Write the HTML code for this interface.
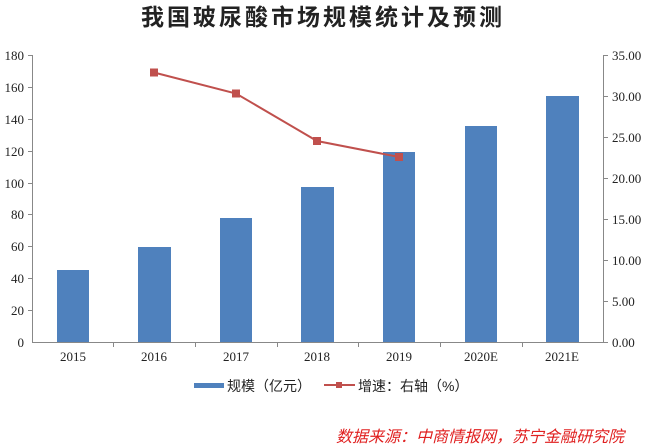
<!DOCTYPE html>
<html><head><meta charset="utf-8"><style>
html,body{margin:0;padding:0;background:#fff;width:646px;height:447px;overflow:hidden}
svg text{font-family:"Liberation Serif","Noto Serif CJK SC",serif}
</style></head><body>
<svg width="646" height="447" viewBox="0 0 646 447" xmlns="http://www.w3.org/2000/svg">
<text x="323" y="25" text-anchor="middle" style="font-family:'Liberation Sans','Noto Sans CJK SC',sans-serif;font-weight:bold;font-size:23px;letter-spacing:3px" fill="#222">我国玻尿酸市场规模统计及预测</text>
<g stroke="#888" stroke-width="1" fill="none">
<line x1="32.5" y1="55" x2="32.5" y2="342"/>
<line x1="603.5" y1="55" x2="603.5" y2="342"/>
<line x1="32" y1="342.5" x2="604" y2="342.5"/>
</g>
<g stroke="#888" stroke-width="1">
<line x1="28" y1="55.5" x2="32" y2="55.5"/><line x1="28" y1="87.5" x2="32" y2="87.5"/><line x1="28" y1="119.5" x2="32" y2="119.5"/><line x1="28" y1="151.5" x2="32" y2="151.5"/><line x1="28" y1="183.5" x2="32" y2="183.5"/><line x1="28" y1="214.5" x2="32" y2="214.5"/><line x1="28" y1="246.5" x2="32" y2="246.5"/><line x1="28" y1="278.5" x2="32" y2="278.5"/><line x1="28" y1="310.5" x2="32" y2="310.5"/>
<line x1="604" y1="55.5" x2="608" y2="55.5"/><line x1="604" y1="96.5" x2="608" y2="96.5"/><line x1="604" y1="137.5" x2="608" y2="137.5"/><line x1="604" y1="178.5" x2="608" y2="178.5"/><line x1="604" y1="219.5" x2="608" y2="219.5"/><line x1="604" y1="260.5" x2="608" y2="260.5"/><line x1="604" y1="301.5" x2="608" y2="301.5"/><line x1="604" y1="342.5" x2="608" y2="342.5"/>
<line x1="113.5" y1="342" x2="113.5" y2="347"/><line x1="195.5" y1="342" x2="195.5" y2="347"/><line x1="277.5" y1="342" x2="277.5" y2="347"/><line x1="358.5" y1="342" x2="358.5" y2="347"/><line x1="440.5" y1="342" x2="440.5" y2="347"/><line x1="522.5" y1="342" x2="522.5" y2="347"/>
</g>
<g font-size="13" fill="#222" text-anchor="end">
<text x="24" y="60">180</text><text x="24" y="92">160</text><text x="24" y="124">140</text><text x="24" y="156">120</text><text x="24" y="188">100</text><text x="24" y="219">80</text><text x="24" y="251">60</text><text x="24" y="283">40</text><text x="24" y="315">20</text><text x="24" y="347">0</text>
</g>
<g font-size="13" fill="#222" text-anchor="start">
<text x="612" y="60">35.00</text><text x="612" y="101">30.00</text><text x="612" y="142">25.00</text><text x="612" y="183">20.00</text><text x="612" y="224">15.00</text><text x="612" y="265">10.00</text><text x="612" y="306">5.00</text><text x="612" y="347">0.00</text>
</g>
<g fill="#4f81bd">
<rect x="57" y="270" width="32" height="72"/>
<rect x="138" y="247" width="33" height="95"/>
<rect x="220" y="218" width="32" height="124"/>
<rect x="301" y="187" width="33" height="155"/>
<rect x="383" y="152" width="32" height="190"/>
<rect x="465" y="126" width="32" height="216"/>
<rect x="546" y="96" width="33" height="246"/>
</g>
<polyline points="154,72.5 236,93.5 317,141 399,157" fill="none" stroke="#c0504d" stroke-width="2"/>
<g fill="#c0504d">
<rect x="150" y="68.5" width="8" height="8"/><rect x="232" y="89.5" width="8" height="8"/><rect x="313" y="137" width="8" height="8"/><rect x="395" y="153" width="8" height="8"/>
</g>
<g font-size="13" fill="#222" text-anchor="middle">
<text x="73" y="361">2015</text><text x="154" y="361">2016</text><text x="236" y="361">2017</text><text x="317" y="361">2018</text><text x="399" y="361">2019</text><text x="481" y="361">2020E</text><text x="562" y="361">2021E</text>
</g>
<rect x="194" y="383" width="30" height="5" fill="#4f81bd"/>
<text x="227" y="391" font-size="14" fill="#222" style="font-family:'Liberation Sans','Noto Sans CJK SC',sans-serif">规模（亿元）</text>
<line x1="324" y1="385" x2="355" y2="385" stroke="#c0504d" stroke-width="2"/>
<rect x="336" y="382" width="6" height="6" fill="#c0504d"/>
<text x="358" y="391" font-size="14" fill="#222" style="font-family:'Liberation Sans','Noto Sans CJK SC',sans-serif">增速：右轴（%）</text>
<text x="336" y="442" font-size="16" fill="#e02020" font-style="italic" style="font-family:'Liberation Sans','Noto Sans CJK SC',sans-serif" textLength="288">数据来源：中商情报网，苏宁金融研究院</text>
</svg>
</body></html>
